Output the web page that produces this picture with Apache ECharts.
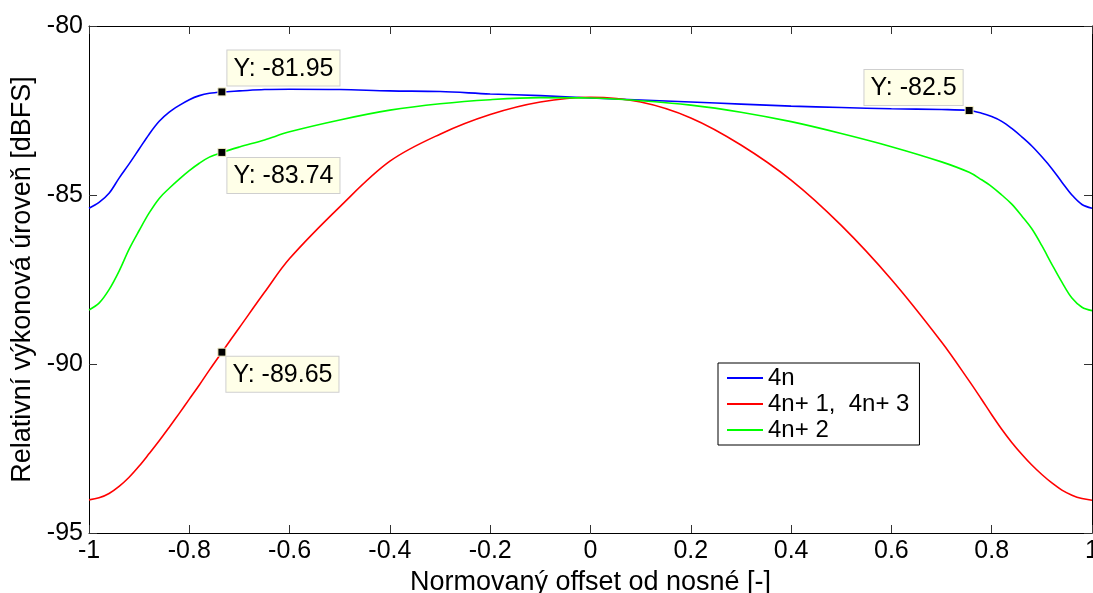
<!DOCTYPE html>
<html>
<head>
<meta charset="utf-8">
<script src="https://cdn.jsdelivr.net/npm/echarts@6/dist/echarts.min.js"></script>
<style>
  html, body {margin: 0; padding: 0; background: #fff;}
  #chart {width: 1093px; height: 593px;}
</style>
</head>
<body>
<div id="chart"></div>
<script>
/* --------------------------------------------------------
 Data
 -----------------------------------------------------------*/
var offsets = [-1, -0.98, -0.96, -0.94, -0.92, -0.9, -0.88, -0.86, -0.84, -0.82, -0.8, -0.78, -0.76, -0.735,
  -0.7, -0.65, -0.6, -0.5, -0.4, -0.3, -0.2, -0.1, 0, 0.1, 0.2, 0.3, 0.4, 0.5, 0.6, 0.7, 0.755,
  0.78, 0.8, 0.82, 0.84, 0.86, 0.88, 0.9, 0.92, 0.94, 0.96, 0.98, 1];

var level4n = [-85.39, -85.22, -84.95, -84.5, -84.08, -83.64, -83.2, -82.82, -82.55, -82.35, -82.18, -82.06, -81.99, -81.95,
  -81.92, -81.88, -81.87, -81.88, -81.92, -81.94, -82.01, -82.06, -82.13, -82.19, -82.25, -82.31, -82.37, -82.41, -82.45, -82.47, -82.5,
  -82.58, -82.68, -82.82, -83.03, -83.28, -83.55, -83.87, -84.22, -84.62, -85.0, -85.28, -85.39];

var level4n13 = [-94.02, -93.96, -93.83, -93.62, -93.35, -93.02, -92.65, -92.27, -91.87, -91.46, -91.04, -90.62, -90.18, -89.65,
  -88.92, -87.88, -86.88, -85.35, -84.0, -83.2, -82.62, -82.25, -82.11, -82.25, -82.72, -83.52, -84.56, -85.9, -87.5, -89.35, -90.5,
  -91.05, -91.5, -91.93, -92.32, -92.67, -92.99, -93.27, -93.52, -93.73, -93.88, -93.98, -94.03];

var level4n2 = [-88.4, -88.2, -87.8, -87.25, -86.6, -86.05, -85.53, -85.1, -84.8, -84.53, -84.28, -84.06, -83.88, -83.74,
  -83.58, -83.37, -83.13, -82.78, -82.49, -82.3, -82.18, -82.12, -82.13, -82.21, -82.34, -82.55, -82.83, -83.18, -83.57, -84.02, -84.33,
  -84.55, -84.75, -85.0, -85.27, -85.62, -86.0, -86.5, -87.05, -87.58, -88.05, -88.32, -88.42];

var labels = ['4n', '4n+ 1,  4n+ 3', '4n+ 2'];

// data tips: [x, y]
var tip4nLeft = [-0.735, -81.95];
var tip4nRight = [0.755, -82.5];
var tip4n2 = [-0.735, -83.74];
var tip4n13 = [-0.735, -89.65];

var font = 'Liberation Sans, Arial, Helvetica, sans-serif';

function pairs(xs, ys) {
  var out = [];
  for (var i = 0; i < xs.length; i++) {
    out.push([xs[i], ys[i]]);
  }
  return out;
}

function dataTip(point, pos, align, vAlign) {
  return {
    coord: point,
    value: point[1],
    label: {position: pos, align: align, verticalAlign: vAlign}
  };
}

function lineSeries(name, color, values, tips) {
  return {
    name: name,
    type: 'line',
    data: pairs(offsets, values),
    showSymbol: false,
    smooth: 0.35,
    animation: false,
    itemStyle: {color: color},
    lineStyle: {color: color, width: 1.6},
    markPoint: {
      symbol: 'rect',
      symbolSize: 8,
      itemStyle: {color: '#000', borderColor: '#f4f0c8', borderWidth: 1},
      label: {
        show: true,
        formatter: function (p) { return 'Y: ' + p.value; },
        fontFamily: font,
        fontSize: 25,
        color: '#000',
        backgroundColor: '#ffffe8',
        borderColor: '#cfcfcf',
        borderWidth: 1,
        padding: [6, 6, 4, 6]
      },
      data: tips
    }
  };
}

var chart = echarts.init(document.getElementById('chart'));

var tickStyle = {show: true, inside: true, length: 8, lineStyle: {color: '#333'}};
var axisLineStyle = {show: true, onZero: false, lineStyle: {color: '#000', width: 1}};

chart.setOption({
  animation: false,
  backgroundColor: '#fff',
  textStyle: {fontFamily: font},
  grid: {left: 89, top: 26, right: 1, bottom: 60, outerBoundsMode: 'none', containLabel: false},
  legend: {
    orient: 'vertical',
    left: 718,
    top: 363,
    data: labels,
    selectedMode: false,
    icon: 'rect',
    itemWidth: 36,
    itemHeight: 2,
    itemGap: 0,
    padding: [2, 10, 2, 9],
    borderColor: '#000',
    borderWidth: 1,
    backgroundColor: '#fff',
    textStyle: {fontFamily: font, fontSize: 24, color: '#000', lineHeight: 26}
  },
  xAxis: [
    {
      type: 'value', min: -1, max: 1, interval: 0.2, position: 'bottom',
      axisLine: axisLineStyle, axisTick: tickStyle, splitLine: {show: false},
      axisLabel: {
        fontFamily: font, fontSize: 25, color: '#000', margin: 6,
        formatter: function (v) { return String(Number(v.toFixed(1))); }
      },
      name: 'Normovaný offset od nosné [-]',
      nameLocation: 'middle',
      nameGap: 30,
      nameTextStyle: {fontFamily: font, fontSize: 27, color: '#000'}
    },
    {
      type: 'value', min: -1, max: 1, interval: 0.2, position: 'top',
      axisLine: axisLineStyle, axisTick: tickStyle, splitLine: {show: false},
      axisLabel: {show: false}
    }
  ],
  yAxis: [
    {
      type: 'value', min: -95, max: -80, interval: 5, position: 'left',
      axisLine: axisLineStyle, axisTick: tickStyle, splitLine: {show: false},
      axisLabel: {fontFamily: font, fontSize: 25, color: '#000', margin: 6},
      name: 'Relativní výkonová úroveň [dBFS]',
      nameLocation: 'middle',
      nameGap: 52,
      nameTextStyle: {fontFamily: font, fontSize: 27, color: '#000'}
    },
    {
      type: 'value', min: -95, max: -80, interval: 5, position: 'right',
      axisLine: axisLineStyle, axisTick: tickStyle, splitLine: {show: false},
      axisLabel: {show: false}
    }
  ],
  series: [
    lineSeries(labels[0], '#0000ff', level4n, [
      dataTip(tip4nLeft, [10, -2], 'left', 'bottom'),
      dataTip(tip4nRight, [-2, -1], 'right', 'bottom')
    ]),
    lineSeries(labels[1], '#ff0000', level4n13, [
      dataTip(tip4n13, [9, 9], 'left', 'top')
    ]),
    lineSeries(labels[2], '#00ff00', level4n2, [
      dataTip(tip4n2, [10, 10], 'left', 'top')
    ])
  ]
});
</script>
</body>
</html>
